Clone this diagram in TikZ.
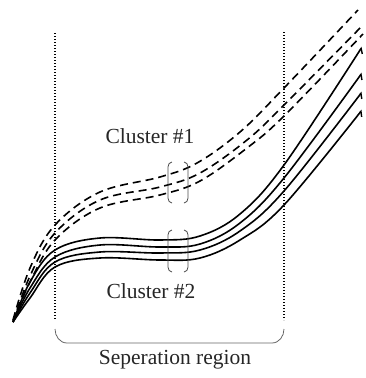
\documentclass[tikz,border=0pt]{standalone}
\usepackage{fontspec}
\setmainfont{Liberation Serif}
\usetikzlibrary{arrows.meta}
\begin{document}
\begin{tikzpicture}[x=1pt,y=-1pt,
  solidcurve/.style={line width=1.6pt,-{Straight Barb[right,length=4pt,width=8pt,line width=1.4pt]}},
  dashcurve/.style={line width=1.6pt,dash pattern=on 8pt off 5pt},
  sepline/.style={line width=1.3pt,dash pattern=on 1.3pt off 1.7pt},
  bracketline/.style={line width=0.8pt,black!70},
  bracestyle/.style={line width=0.8pt,black!60},
  label/.style={font=\fontsize{21.5}{25}\selectfont,text=black!85,inner sep=0pt}]
\useasboundingbox (0,0) rectangle (365,378);
% separation lines
\coordinate (lt) at (55,33); \coordinate (lb) at (55,320);
\coordinate (rt) at (284,32); \coordinate (rb) at (284,320);
\draw[sepline] (lt) -- (lb);
\draw[sepline] (rt) -- (rb);
% dashed curves (cluster 1)
\draw[dashcurve] plot[smooth,tension=0.6] coordinates {(13,320) (30,268) (55,225) (100,192) (160,177) (197,163) (240,132) (284,88) (358,10)};
\draw[dashcurve] plot[smooth,tension=0.6] coordinates {(13,322) (30,276) (55,233) (100,200) (160,187) (200,173) (247,140) (284,105) (363,25)};
\draw[dashcurve] plot[smooth,tension=0.6] coordinates {(13,322) (30,282) (55,240) (100,208) (160,195) (200,181) (247,148) (284,116) (363,34)};
% solid curves (cluster 2)
\draw[solidcurve] plot[smooth,tension=0.6] coordinates {(13,322) (30,282) (55,250) (100,238) (160,240) (200,236) (240,214) (284,165) (362,47)};
\draw[solidcurve] plot[smooth,tension=0.6] coordinates {(13,322) (30,288) (55,257) (100,245) (160,247) (200,244) (240,223) (284,178) (362,73)};
\draw[solidcurve] plot[smooth,tension=0.6] coordinates {(13,322) (30,293) (55,262) (100,252) (160,253) (200,250) (240,231) (284,191) (362,92)};
\draw[solidcurve] plot[smooth,tension=0.6] coordinates {(13,322) (30,298) (55,267) (100,258) (160,260) (200,258) (240,240) (284,205) (362,110)};
% small brackets
\foreach \t/\b in {162/203, 230/272}{
  \draw[bracketline] (172,\t) to[out=180,in=90] (168,\t+5) -- (168,\b-5) to[out=-90,in=180] (172,\b);
  \draw[bracketline] (184,\t) to[out=0,in=90] (188,\t+5) -- (188,\b-5) to[out=-90,in=0] (184,\b);
}
% brace
\draw[bracestyle] (55,329) to[out=-90,in=180] (67,343) -- (272,343) to[out=0,in=-90] (284,329);
% labels
\node[label,anchor=base] (c1) at (150,143) {Cluster \#1};
\node[label,anchor=base] (c2) at (151,298) {Cluster \#2};
\node[label,anchor=base] (sr) at (175,364) {Seperation region};
\end{tikzpicture}
\end{document}
